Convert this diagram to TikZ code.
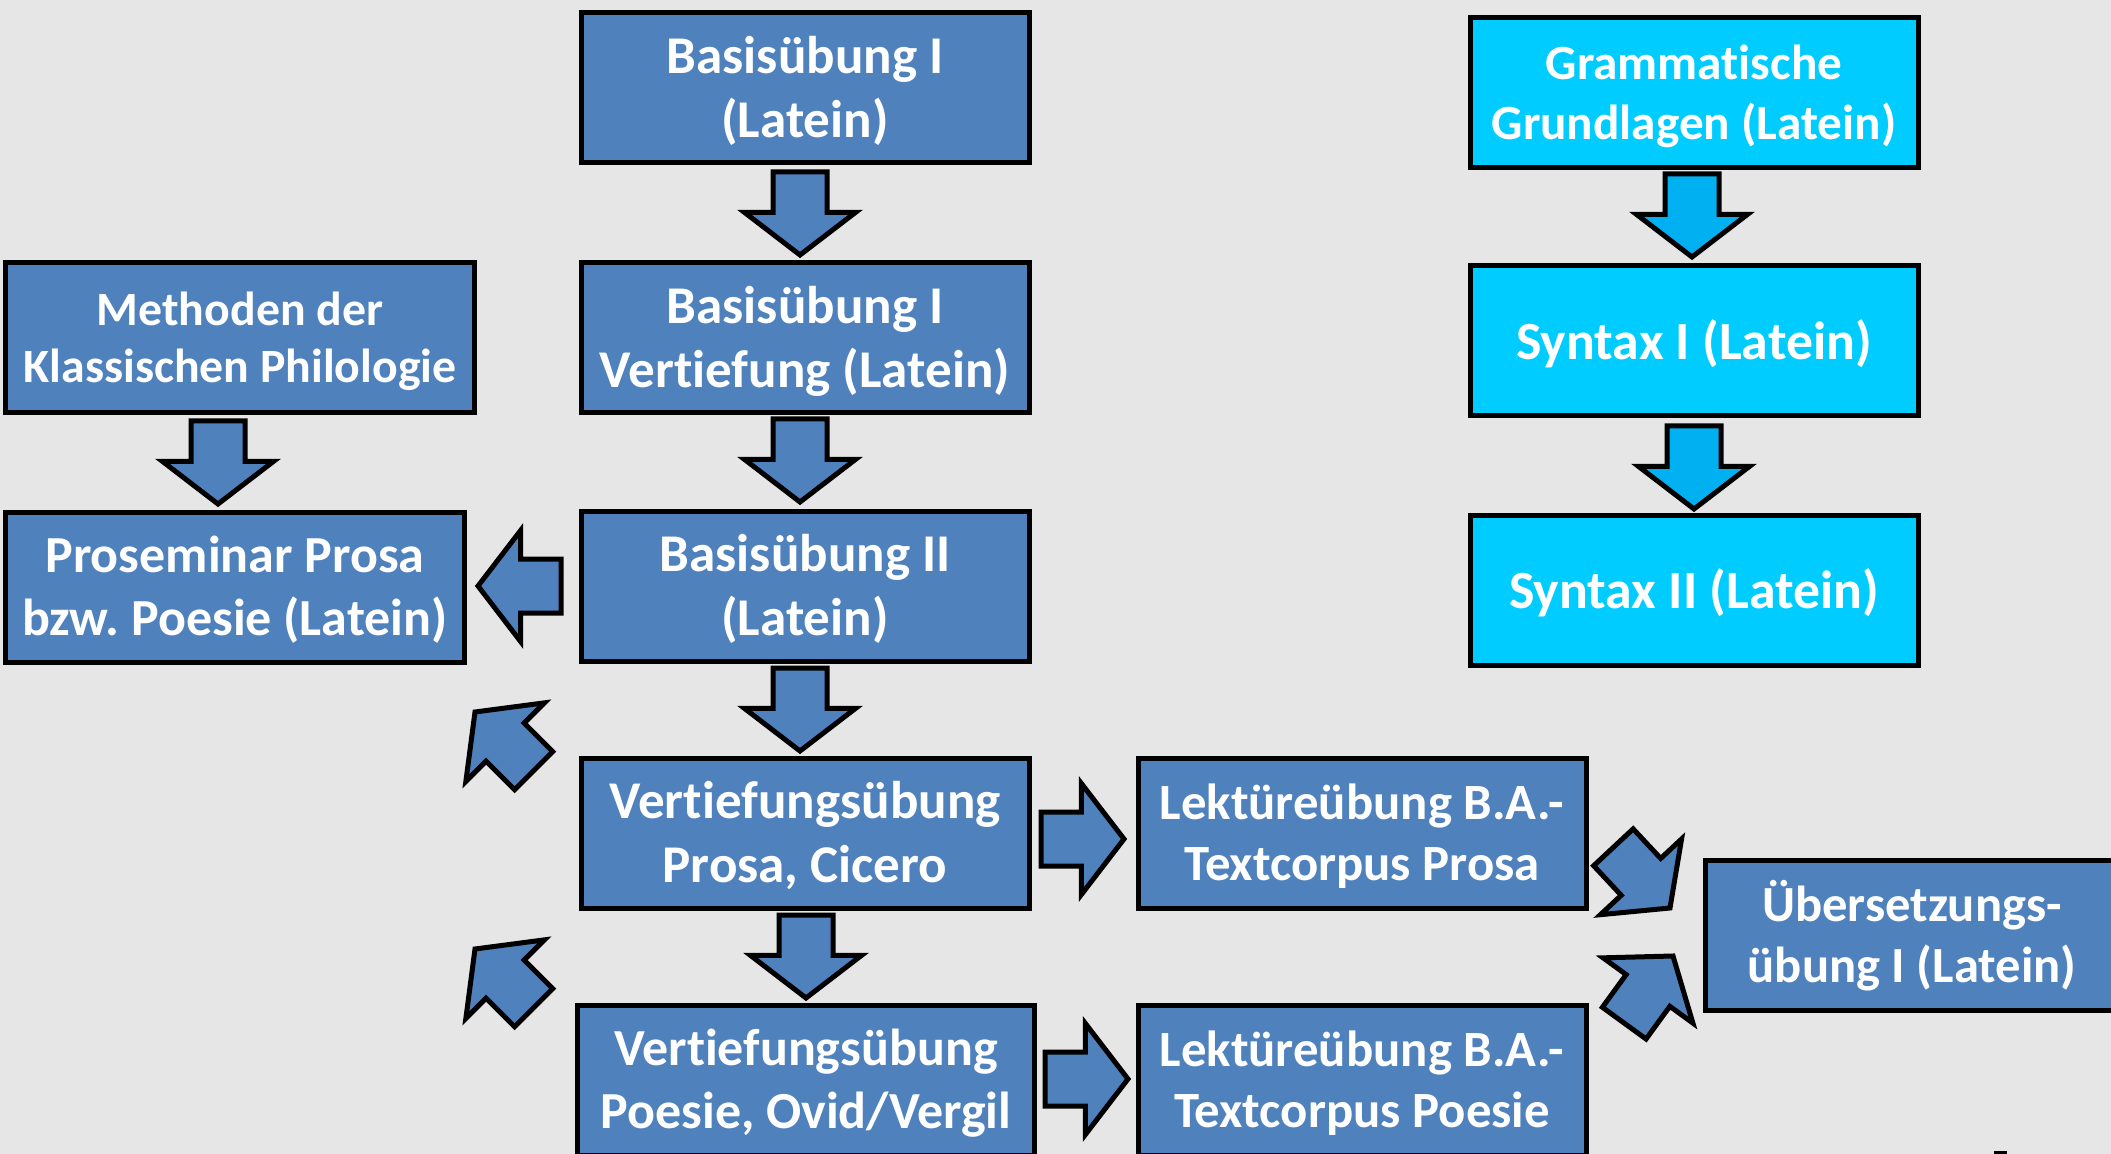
\documentclass[tikz,border=0pt]{standalone}
\usepackage{fontspec}
\setmainfont{Carlito}[Ligatures=NoCommon]
\usetikzlibrary{shapes.arrows}
\definecolor{bggrey}{RGB}{230,230,230}
\definecolor{boxblue}{RGB}{79,129,189}
\definecolor{boxcyan}{RGB}{0,204,255}
\definecolor{arrcyan}{RGB}{0,176,240}
\frenchspacing
\tikzset{
  schrift/.style 2 args={font=\fontsize{#1pt}{#2pt}\selectfont\bfseries},
  kurstext/.style={text=white, text width=44mm, align=flush center, inner sep=0pt,
    schrift={14.8}{17.9},
    execute at begin node={\rule{0pt}{1em}},
    execute at end node={\rule[-0.33em]{0pt}{0pt}}},
  kurs/.style={kurstext, rectangle, draw=black, line width=0.5mm, fill=boxblue,
    minimum width=44.8mm, minimum height=15mm},
  kurscyan/.style={kurs, fill=boxcyan},
  pfeil/.style={single arrow, draw=black, line width=0.5mm, fill=boxblue,
    minimum width=10.6mm, minimum height=8.3mm, single arrow head extend=2.85mm,
    single arrow tip angle=105, inner xsep=0pt, inner ysep=2.45mm, outer sep=0pt,
    anchor=tip},
  pfeilcyan/.style={pfeil, fill=arrcyan}
}
\begin{document}
\begin{tikzpicture}[x=0.1mm, y=-0.1mm]
  \useasboundingbox (0,0) rectangle (2111,1154);
  \clip (0,0) rectangle (2111,1154);
  \fill[bggrey] (0,0) rectangle (2111,1154);

  \node[kurs, schrift={15.1}{18.1}] (b1) at (805,88) {Basisübung I\\(Latein)};
  \node[kurs, schrift={15.1}{18.1}] (b1v) at (805,338) {Basisübung I\\Vertiefung (Latein)};
  \node[kurs, schrift={15.1}{18.1}] (b2) at (805,586) {Basisübung II\\(Latein)};
  \node[kurs, schrift={15.1}{18.1}] (vprosa) at (805,833) {Vertiefungsübung\\Prosa, Cicero};
  \node[kurs, minimum width=45.7mm] (vpoesie) at (806,1080) {Vertiefungsübung\\Poesie, Ovid/Vergil};
  \node[kurs, minimum width=46.9mm, schrift={13.6}{16.1}] (meth) at (240,338) {Methoden der\\Klassischen Philologie};
  \node[kurs, minimum width=45.9mm] (pros) at (235,587) {Proseminar Prosa\\bzw. Poesie (Latein)};
  \node[kurscyan, schrift={14}{17.2}] (gram) at (1694,93) {Grammatische\\Grundlagen (Latein)};
  \node[kurscyan, schrift={15.3}{18.3}] (syn1) at (1694,341) {Syntax I (Latein)};
  \node[kurscyan, schrift={15.3}{18.3}] (syn2) at (1694,590) {Syntax II (Latein)};
  \node[kurs, schrift={14.45}{17.2}] (lprosa) at (1362,833) {Lektüreübung B.A.-\\Textcorpus Prosa};
  \node[kurs, schrift={14.45}{17.2}] (lpoesie) at (1362,1080) {Lektüreübung B.A.-\\Textcorpus Poesie};
  \node[kurs, anchor=west, minimum width=44mm] (ueb) at (1703,935) {};
  \node[kurstext, schrift={14.4}{17.2}] (uebtext) at (1912,935) {Übersetzungs-\\übung I (Latein)};

  \node[pfeil, rotate=-90] (p1) at (800,255) {};
  \node[pfeil, rotate=-90] (p2) at (800,502) {};
  \node[pfeil, rotate=-90] (p3) at (800,751) {};
  \node[pfeil, rotate=-90] (p4) at (806,998) {};
  \node[pfeil, rotate=-90] (p5) at (218,504) {};
  \node[pfeil, rotate=180] (p6) at (478,586) {};
  \node[pfeil, rotate=135] (p7) at (475,712) {};
  \node[pfeil, rotate=135] (p8) at (475,949) {};
  \node[pfeil] (p9) at (1124,839) {};
  \node[pfeil] (p10) at (1128,1079) {};
  \node[pfeil, rotate=-47] (p11) at (1670,908) {};
  \node[pfeil, rotate=54] (p12) at (1673,956) {};
  \node[pfeilcyan, rotate=-90] (c1) at (1692,257) {};
  \node[pfeilcyan, rotate=-90] (c2) at (1694,509) {};

  \fill[black] (1994,1151) rectangle (2007,1154);
\end{tikzpicture}
\end{document}
